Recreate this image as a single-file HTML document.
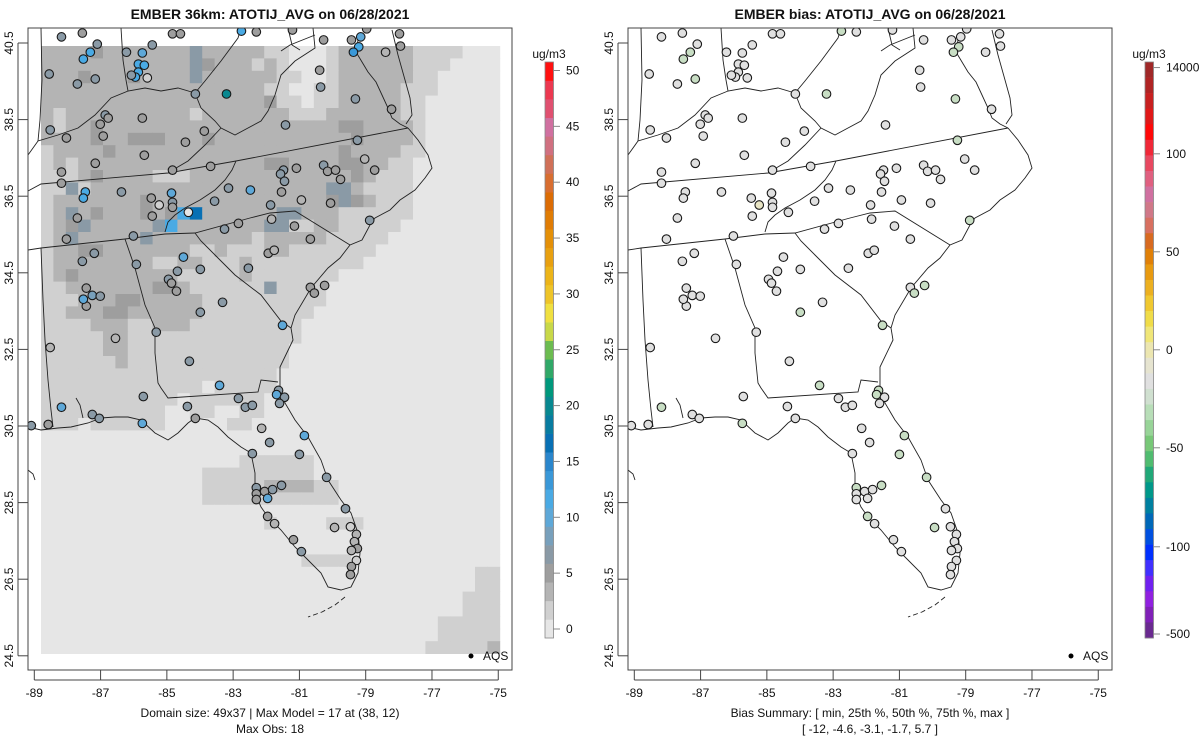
<!DOCTYPE html>
<html><head><meta charset="utf-8"><style>
html,body{margin:0;padding:0;background:#fff;}
svg{display:block;font-family:"Liberation Sans",sans-serif;}
</style></head><body>
<svg id="root" width="1200" height="750" viewBox="0 0 1200 750" xmlns="http://www.w3.org/2000/svg">
<defs>
<clipPath id="clipL"><rect x="28" y="28" width="484" height="642"/></clipPath>
<clipPath id="clipR"><rect x="628" y="28" width="484" height="642"/></clipPath>
<g id="borders" fill="none" stroke="#222" stroke-width="0.9">
<polyline points="28,191 41,184 168,173 236,161 408,128"/>
<polyline points="28,250 41,248 125,239 165,234 195,233 250,218 270,213 295,211 350,245"/>
<polyline points="236,161 232,170 225,180 215,190 200,200 185,208 175,215 168,222 165,232"/>
<polyline points="195,233 201,241 215,255 235,275 261,295 281,321 291,328"/>
<polyline points="125,239 135,268 145,305 155,328 155,353 158,383 161,388 168,398 258,392 261,380 278,382"/>
<polyline points="76,398 80,405 83,418"/>
<polyline points="41,248 43,300 45,340 48,380 51,410 53,427"/>
<polyline points="28,155 38,141 58,135 78,128 95,115 111,98 128,91 145,88 161,91 178,88 195,93"/>
<polyline points="121,28 123,60 126,80 128,91"/>
<polyline points="41,28 42,80 40,120 38,141"/>
<polyline points="195,93 201,108 215,121 221,128 235,135 248,128 261,121 268,111 275,95 281,75 295,61 315,48 313,28"/>
<polyline points="221,128 205,145 188,161 171,171"/>
<polyline points="195,93 205,81 221,61 238,38 241,28"/>
<polyline points="281,51 290,45 315,35"/>
<polyline points="288,28 292,45 300,50"/>
<polyline points="358,40 356,52 362,62 368,72 376,82 382,95 388,108 392,118 400,124 408,128"/>
<polyline points="392,30 398,55 405,80 410,98 412,115 406,124"/>
<polyline points="408,128 418,140 428,155 432,168 425,178 415,190 400,200 390,210 375,218 370,225 362,240 350,245 340,258 328,268 311,288 295,315 291,328 293,340 280,367 280,387 285,403 295,420 308,437 321,460 328,480 341,500 351,513 358,533 360,553 358,573 351,587 341,590 328,587 321,573 308,560 295,547 281,530 268,517 261,507 255,493 255,473 251,453 241,447 228,437 218,427 208,420 195,418 188,423 178,433 168,440 155,433 141,420 128,417 115,417 101,418 88,423 71,427 58,428 41,430 28,427"/>
<polyline points="345,597 335,605 322,612 308,617" stroke-dasharray="5,3"/>
<polyline points="28,470 33,474 35,480"/>
</g>
</defs>
<g id="layer"></g>
</svg>
<script>
// ---------- data ----------
const gridLevels = [
"2222322222224222221100012222221111000",
"2222222222224322212100012222221110000",
"2223222322224222222110012222221100000",
"2222222222222222221100112222211100000",
"2222222222222222223110112222211000000",
"2122222222221222222211122222211000000",
"2122322222222222222222223322221000000",
"2222322333222322222222222322221000000",
"1222232222222222222222223222211000000",
"1212222222222222223322223322110000000",
"1112322221112222222222222321110000000",
"1141222222222222222222244211110000000",
"1222222232222222222222234321110000000",
"1242322232356222222442221111110000000",
"1234222224522222224411221111100000000",
"1242222242222222212222211111000000000",
"1223322222221121112211111110000000000",
"1222222221122111211111111100000000000",
"1232222222211111211111110000000000000",
"1122222223321111114111100000000000000",
"1112223322222111111111100000000000000",
"1122233222222111111111000000000000000",
"1111222112221111111110000000000000000",
"1111122111111111111110000000000000000",
"1111122111111111111100000000000000000",
"1111112111111111111100000000000000000",
"1111111111111111111000000000000000000",
"1111111111111011111000000000000000000",
"1111111111101111110000000000000000000",
"1111111111001100110000000000000000000",
"1110111111000001100000000000000000000",
"0000000000000000000000000000000000000",
"0000000000000000000000000000000000000",
"0000000000000000111111000000000000000",
"0000000000000111111111000000000000000",
"0000000000000111112222110000000000000",
"0000000000000111111111110000000000000",
"0000000000000000000000000000000000000",
"0000000000000000001000011100000000000",
"0000000000000000000000000000000000000",
"0000000000000000000000000000000000000",
"0000000000000000000001111000000000000",
"0000000000000000000000000000000000011",
"0000000000000000000000000000000000011",
"0000000000000000000000000000000000111",
"0000000000000000000000000000000000111",
"0000000000000000000000000000000011111",
"0000000000000000000000000000000011111",
"0000000000000000000000000000000111112"];
const levelValues = [0, 1.5, 3.2, 4.8, 6.5, 11, 16.5];

const stationLon = [-88.18,-87.55,-87.10,-87.31,-87.52,-88.55,-87.70,-87.16,-86.22,-85.74,-85.44,-85.86,-85.68,-85.86,-85.95,-86.07,-85.59,-84.83,-84.59,-82.75,-82.30,-81.21,-80.27,-79.43,-79.15,-79.21,-79.37,-78.97,-77.98,-77.95,-78.40,-84.14,-83.20,-80.39,-80.36,-79.31,-78.22,-86.86,-87.01,-86.77,-85.74,-88.52,-88.03,-86.92,-83.87,-84.44,-81.42,-85.68,-87.16,-88.18,-88.18,-84.83,-83.68,-79.25,-79.03,-80.27,-80.15,-79.91,-79.76,-78.73,-81.09,-81.48,-81.57,-81.45,-81.54,-80.94,-80.06,-78.88,-87.46,-87.52,-86.37,-84.86,-84.83,-85.47,-85.23,-84.35,-85.44,-84.83,-83.14,-82.48,-83.56,-81.87,-81.84,-82.84,-83.26,-87.70,-88.03,-86.01,-81.15,-80.67,-81.94,-81.76,-87.19,-87.55,-85.92,-84.50,-84.68,-83.99,-84.95,-84.86,-84.71,-82.54,-87.43,-87.25,-87.01,-87.43,-87.52,-83.32,-83.99,-80.67,-80.24,-80.55,-81.51,-85.32,-86.55,-88.52,-84.32,-83.41,-85.71,-84.38,-88.18,-87.25,-87.04,-88.58,-89.09,-85.74,-84.14,-82.84,-82.63,-82.42,-82.14,-81.90,-81.63,-81.69,-81.45,-81.60,-80.85,-81.00,-82.42,-80.18,-82.30,-82.05,-81.81,-81.54,-82.30,-82.30,-81.96,-81.96,-81.75,-81.18,-80.94,-79.61,-79.94,-79.46,-79.28,-79.34,-79.25,-79.43,-79.28,-79.43,-79.46];
const stationLat = [40.66,40.76,40.47,40.26,40.08,39.69,39.43,39.56,40.26,40.24,40.45,39.95,39.92,39.74,39.61,39.66,39.59,40.74,40.74,40.81,40.79,40.84,40.58,40.58,40.66,40.40,40.26,40.87,40.74,40.42,40.26,39.17,39.17,39.79,39.35,39.04,38.77,38.62,38.38,38.54,38.54,38.23,38.02,38.07,38.20,37.91,38.36,37.57,37.36,37.13,36.84,37.18,37.28,37.96,37.47,37.31,37.15,37.18,36.94,37.18,37.23,37.18,37.08,36.89,36.61,36.40,36.32,35.87,36.61,36.45,36.61,36.58,36.34,36.45,36.27,36.08,35.98,36.21,36.71,36.66,36.37,36.27,35.90,35.79,35.64,35.93,35.38,35.46,35.72,35.38,35.01,35.09,35.01,34.80,34.72,34.91,34.54,34.59,34.33,34.23,34.02,34.62,34.10,33.91,33.89,33.63,33.81,33.73,33.47,34.12,34.17,33.97,33.13,32.95,32.79,32.55,32.19,31.56,31.27,31.01,30.99,30.80,30.70,30.54,30.51,30.57,30.70,31.22,30.99,31.04,30.44,30.07,31.43,31.32,31.25,31.09,30.25,29.76,29.78,29.16,28.89,28.79,28.84,28.95,28.73,28.58,28.61,28.14,27.95,27.53,27.22,28.34,27.85,27.87,27.67,27.48,27.30,27.25,26.99,26.83,26.62];
const stationObs = [7,5,7,11,12,7,7,7,7,10,7,11,11,11,11,7,2,5,5,11,5,5,5,5,10,11,14,5,5,5,3,7,20,5,7,7,5,7,5,5,5,7,5,5,5,5,7,5,5,5,5,5,5,7,3,7,5,5,5,5,5,7,7,7,5,3,5,7,11,11,7,10,7,5,1,0.5,5,5,7,10,7,7,3,5,7,5,5,7,5,5,5,3,7,7,7,10,7,7,7,5,5,7,5,8,7,5,10,7,7,5,5,5,10,7,3,3,7,10,7,7,10,7,7,5,7,10,5,7,7,7,4,7,7,10,7,7,10,7,7,7,7,5,7,7,5,5,10,5,4,5,7,7,4,2,4,4,5,4,2,5,5];
const stationBias = [-3,-3,-3,-7,-7,-3,-3,-6,-3,-3,-3,-3,-3,-3,-3,-3,-2,-3,-3,-6,-3,-3,-3,-3,-3,-7,-7,-3,-3,-3,-2,-3,-8,-3,-3,-6,-3,-3,-3,-3,-3,-3,-3,-3,-3,-3,-3,-3,-3,-3,-3,-3,-3,-6,-3,-3,-3,-3,-3,-3,-3,-3,-3,-3,-3,-3,-3,-6,-3,-3,-3,-3,-3,-3,2,-2,-3,-3,-3,-3,-3,-3,-3,-3,-3,-3,-3,-3,-3,-3,-3,-3,-3,-3,-3,-3,-3,-3,-3,-3,-3,-3,-3,-3,-3,-3,-3,-3,-6,-3,-6,-6,-6,-3,-3,-3,-3,-6,-3,-3,-6,-3,-3,-3,-3,-6,-3,-3,-3,-3,-3,-3,-6,-6,-3,-3,-6,-6,-3,-6,-6,-3,-3,-6,-3,-3,-3,-6,-3,-3,-3,-3,-6,-3,-3,-3,-3,-3,-3,-3,-3,-3,-6];

const obsTicks = [0,5,10,15,20,25,30,35,40,45,50];
const biasTicks = [14000,100,50,0,-50,-100,-500];
const lonTicks = [-89,-87,-85,-83,-81,-79,-77,-75];
const latTicks = [40.5,38.5,36.5,34.5,32.5,30.5,28.5,26.5,24.5];

// ---------- scales ----------
const NS = "http://www.w3.org/2000/svg";
const layer = document.getElementById('layer');
function mk(tag, attrs, parent){const e=document.createElementNS(NS,tag);for(const k in attrs)e.setAttribute(k,attrs[k]);(parent||layer).appendChild(e);return e;}
function xOf(lon, off){return 34.3 + off + (lon + 89) * 33.14;}
function yOf(lat){return 43 + (40.5 - lat) * 38.3;}

const obsColors = ["#e6e6e6","#d0d0d0","#b4b4b4","#9e9e9e","#8a9aa6","#78a0bc","#5ea8d8","#4aaae4","#3a98d8","#2a86cc","#0870b4","#087ca0","#088890","#00987c","#30a868","#6cbc50","#c8d848","#f0e040","#eec428","#ecb418","#e8a010","#e49008","#e07c04","#dc6c04","#d86e30","#d07058","#d07080","#d070a0","#e05070","#ec3850","#ff1010"];
const obsMin = -0.8, obsMax = 51;
function obsY(v){return 629 - v * 11.17;}
function obsColor(v){let i=Math.floor((v-obsMin)/((obsMax-obsMin)/obsColors.length));return obsColors[Math.max(0,Math.min(obsColors.length-1,i))];}

const biasColorsTop = ["#a02828","#b02424","#c82020","#e01818","#ff0808","#f02838","#e84860","#e06080","#d070a0","#d07888","#d87060","#d86a20","#e08008","#e89a10","#ecb020","#f0c830","#f0dc48","#f0e678","#ece6b0","#e6e4d0","#e0e0e0","#d0e0d0","#b8deb8","#98d498","#78c878","#50bc70","#20a878","#00988a","#0080a0","#0068b8","#0050e0","#0030ff","#4030ff","#7020f0","#9020e0","#8020b8","#6a2a90"];
const biasBreakVals = [-500,-100,-50,0,50,100,14000];
const biasBreakIdx = [0,0.89,1.9,2.9,3.9,4.9,5.78];
function biasY(v){
  let k=0; while(k<biasBreakVals.length-2 && v>biasBreakVals[k+1]) k++;
  const f=(v-biasBreakVals[k])/(biasBreakVals[k+1]-biasBreakVals[k]);
  const idx=biasBreakIdx[k]+f*(biasBreakIdx[k+1]-biasBreakIdx[k]);
  return 634 - idx*98;
}
function biasColor(v){
  if(v>=0) return "#e8e4c4";
  if(v>=-5) return "#e0e0e0";
  if(v>=-10) return "#c8dec4";
  return "#a8d4a8";
}

// ---------- panels ----------
function frame(off, name){
  const g=mk('g',{});
  
  
  const box=mk('rect',{x:28+off,y:28,width:484,height:642,fill:'none',stroke:'#444','stroke-width':1},g);
  
  
  lonTicks.forEach(t=>{
    const x=xOf(t,off);
    mk('line',{x1:x,y1:670,x2:x,y2:680,stroke:'#444'},g);
    const tx=mk('text',{x:x,y:697,'font-size':12,'text-anchor':'middle',fill:'#111'},g);
    tx.textContent=t;
    
    
  });
  mk('line',{x1:xOf(-89,off),y1:680,x2:xOf(-75,off),y2:680,stroke:'#444'},g);
  latTicks.forEach(t=>{
    const y=yOf(t);
    mk('line',{x1:18+off,y1:y,x2:28+off,y2:y,stroke:'#444'},g);
    const tx=mk('text',{x:0,y:0,'font-size':12,'text-anchor':'middle',fill:'#111',transform:`translate(${13+off},${y}) rotate(-90)`},g);
    tx.textContent=t.toFixed(1);
    
    
  });
  mk('line',{x1:18+off,y1:yOf(40.5),x2:18+off,y2:yOf(24.5),stroke:'#444'},g);
}

// left grid
const gridG=mk('g',{'clip-path':'url(#clipL)'});


const cw=12.4, ch=12.4, gx0=41, gy0=46;
gridLevels.forEach((row,r)=>{
  for(let c=0;c<row.length;c++){
    const v=levelValues[+row[c]];
    const cell=mk('rect',{x:gx0+c*cw,y:gy0+r*ch,width:cw+0.4,height:ch+0.4,fill:obsColor(v)},gridG);
    
    
  }
});
// borders
const bl=mk('use',{href:'#borders','clip-path':'url(#clipL)'});


const brg=mk('g',{'clip-path':'url(#clipR)'});
const br=mk('use',{href:'#borders',transform:'translate(600,0)'},brg);



// stations
const sL=mk('g',{'clip-path':'url(#clipL)'});
const sR=mk('g',{'clip-path':'url(#clipR)'});
stationLon.forEach((lon,i)=>{
  const y=yOf(stationLat[i]);
  const a=mk('circle',{cx:xOf(lon,0),cy:y,r:4.3,fill:obsColor(stationObs[i]),stroke:'#1a1a1a','stroke-width':1.1},sL);
  
  
  const b=mk('circle',{cx:xOf(lon,600),cy:y,r:4.3,fill:biasColor(stationBias[i]),stroke:'#1a1a1a','stroke-width':1.1},sR);
  
  
});

frame(0,'left');
frame(600,'right');

// titles & texts
function txt(x,y,s,str,name,extra){
  const t=mk('text',Object.assign({x:x,y:y,'font-size':s,'text-anchor':'middle',fill:'#111'},extra||{}));
  t.textContent=str;
  
  
  return t;
}
txt(270,19,14,'EMBER 36km: ATOTIJ_AVG on 06/28/2021','left-title',{'font-weight':'bold'});
txt(870,19,14,'EMBER bias: ATOTIJ_AVG on 06/28/2021','right-title',{'font-weight':'bold'});
txt(270,717,12,'Domain size: 49x37 | Max Model = 17 at (38, 12)','left-footer-domain');
txt(270,733,12,'Max Obs: 18','left-footer-maxobs');
txt(870,717,12,'Bias Summary: [ min, 25th %, 50th %, 75th %, max ]','right-footer-summary');
txt(870,733,12,'[ -12,  -4.6,  -3.1,  -1.7,  5.7 ]','right-footer-values',{'xml:space':'preserve'});

// AQS legend
[0,600].forEach(off=>{
  const d=mk('circle',{cx:471+off,cy:656,r:2.5,fill:'#000'});
  
  
  const t=mk('text',{x:483+off,y:660,'font-size':12,fill:'#111'});
  t.textContent='AQS';
  
  
});

// left colorbar
const cbL=mk('g',{});


const binH=(638-62)/obsColors.length;
obsColors.forEach((c,i)=>{
  mk('rect',{x:545,y:638-(i+1)*binH,width:8.5,height:binH+0.3,fill:c},cbL);
});
mk('rect',{x:545,y:62,width:8.5,height:576,fill:'none',stroke:'#888','stroke-width':0.8},cbL);
obsTicks.forEach(t=>{
  const y=obsY(t);
  mk('line',{x1:553,y1:y,x2:560,y2:y,stroke:'#888'},cbL);
  const tx=mk('text',{x:566,y:y+4,'font-size':12,fill:'#111'},cbL);
  tx.textContent=t;
});
txt(549,58,12,'ug/m3','obs-colorbar-unit');

// right colorbar
const cbR=mk('g',{});


const bH=(638-62)/biasColorsTop.length;
biasColorsTop.forEach((c,i)=>{
  mk('rect',{x:1145,y:62+i*bH,width:8.5,height:bH+0.3,fill:c},cbR);
});
mk('rect',{x:1145,y:62,width:8.5,height:576,fill:'none',stroke:'#888','stroke-width':0.8},cbR);
biasTicks.forEach(t=>{
  const y=biasY(t);
  mk('line',{x1:1153,y1:y,x2:1160,y2:y,stroke:'#888'},cbR);
  const tx=mk('text',{x:1166,y:y+4,'font-size':12,fill:'#111'},cbR);
  tx.textContent=t;
});
txt(1149,58,12,'ug/m3','bias-colorbar-unit');
</script>
</body></html>
